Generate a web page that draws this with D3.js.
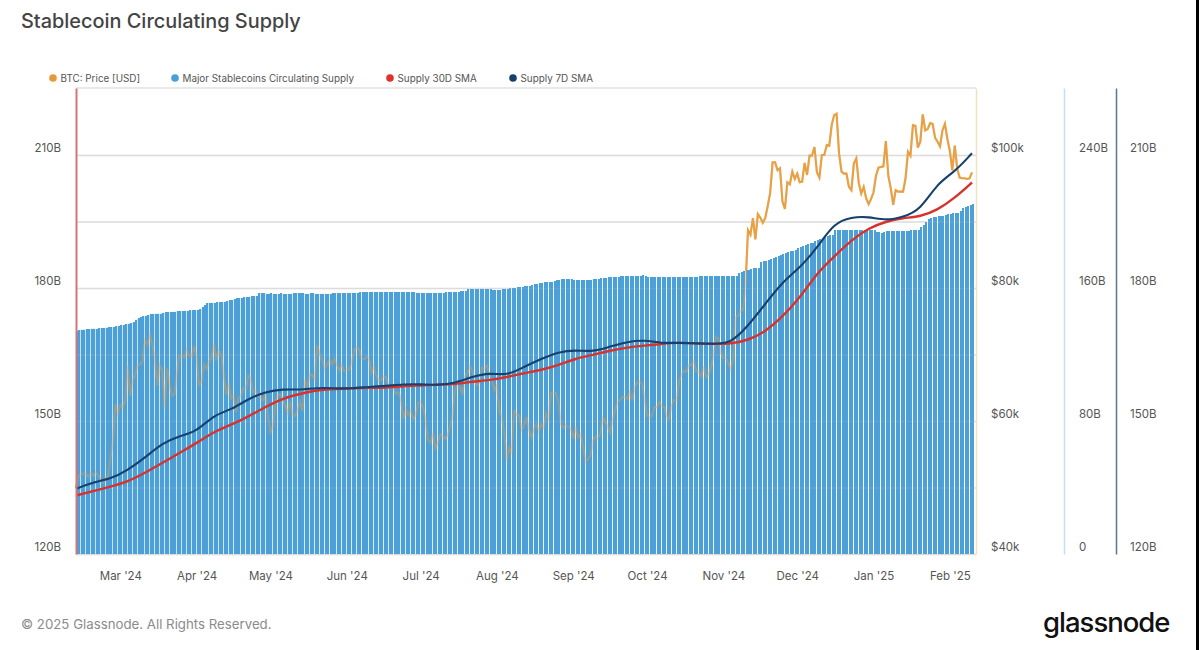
<!DOCTYPE html>
<html>
<head>
<meta charset="utf-8">
<script src="https://cdn.jsdelivr.net/npm/d3@7"></script>
<style>
body { margin: 0; background: #fff; }
text { font-family: Inter, sans-serif; }
.tick text { font-size: 11.5px; fill: #555; }
</style>
</head>
<body>
<div id="chart"></div>
<script>
var firstDay = new Date(2024, 1, 12);
var lastDay = new Date(2025, 1, 10);

// BTC price in thousand USD, one value a day from 12 Feb 2024
var btcPrice = [
49.9,51.8,51.9,52.1,52.1,51.6,52.1,51.8,52.3,51.8,51.3,50.8,51.6,51.7,54.5,57.1,62.5,61.2,
62.4,62.0,63.1,68.3,63.8,66.1,66.9,68.3,68.5,68.9,72.1,71.5,73.1,71.4,69.4,65.3,68.4,67.6,62.0,67.9,65.5,63.8,64.0,67.2,69.9,69.9,69.5,70.7,69.9,69.6,71.3,
69.7,65.4,65.9,68.5,67.8,69.0,69.4,71.6,69.1,70.6,70.0,67.2,63.9,65.7,63.4,63.8,61.3,63.5,63.8,64.9,64.9,66.8,66.4,64.3,64.5,63.8,63.4,63.1,63.8,60.6,
58.3,59.1,62.9,63.9,64.0,63.2,62.3,61.2,63.0,60.8,60.8,61.5,62.9,61.5,66.2,65.2,67.0,66.9,66.3,71.4,70.1,69.1,67.9,68.5,69.2,68.5,69.4,68.4,67.6,68.4,67.5,
67.7,67.7,68.8,70.6,71.1,70.8,69.4,69.3,69.6,69.5,67.3,68.2,66.8,66.0,66.2,66.7,66.5,65.2,65.0,64.9,64.1,64.3,63.2,60.3,61.8,60.9,61.6,60.3,60.9,62.7,
62.9,62.1,60.2,57.1,56.7,58.2,55.9,56.7,58.0,57.7,57.3,57.9,59.2,60.8,64.9,65.1,65.1,63.9,66.7,67.2,68.2,67.5,65.9,65.4,65.8,68.0,67.9,68.3,66.8,66.2,64.6,
65.4,61.4,60.7,58.1,54.0,56.0,55.1,61.7,60.9,60.9,58.7,59.3,60.6,58.7,57.5,58.9,59.5,58.5,59.5,59.0,61.2,60.4,64.2,64.2,64.2,62.9,59.4,59.0,59.4,59.1,58.9,
57.3,59.1,57.5,58.0,56.2,53.9,54.2,54.8,57.0,57.6,57.4,58.1,60.5,60.0,59.2,58.2,60.3,61.6,62.9,63.2,63.6,63.6,63.3,64.3,63.1,65.2,65.8,65.9,65.6,63.3,
60.8,60.6,60.8,62.1,62.1,62.8,62.2,62.1,60.6,60.3,62.4,63.2,63.0,66.0,67.0,67.6,67.4,68.4,68.4,69.0,67.4,67.4,66.7,68.2,66.6,67.0,68.0,69.9,72.7,72.3,70.2,
69.5,69.4,68.7,67.8,69.4,75.6,75.9,76.5,76.7,80.4,88.7,88.0,90.5,87.3,91.1,90.6,89.8,90.5,92.3,94.3,98.9,98.9,97.7,98.0,93.0,91.9,95.9,95.6,97.5,96.4,
97.2,95.9,96.0,98.8,97.0,99.9,99.9,101.2,97.4,96.6,100.0,100.0,101.5,101.4,104.5,106.0,106.2,100.2,97.5,97.2,97.2,95.2,94.7,98.7,99.5,95.8,94.2,95.2,93.5,92.6,93.4,
94.4,96.9,98.1,98.2,98.3,102.1,96.9,95.0,92.5,94.7,94.5,94.5,94.5,96.5,100.5,99.9,104.5,104.4,101.1,102.0,106.1,103.7,103.9,104.8,104.7,102.6,102.0,101.3,103.7,104.7,102.4,
100.6,97.7,101.4,97.9,96.6,96.5,96.5,96.4,96.5,97.4];

// circulating supply in billion USD, one value a day
var supply = [
134.2,134.6,135.0,135.0,135.4,135.4,135.6,135.6,135.4,135.8,136.0,136.0,136.2,136.4,136.4,136.5,136.9,137.3,
137.5,137.9,138.3,138.6,139.0,139.5,141.0,142.0,142.5,143.0,143.4,143.8,144.4,144.5,144.6,144.6,144.6,145.1,145.4,145.6,145.6,145.7,145.8,146.0,146.1,146.1,146.3,146.3,146.5,146.6,146.8,
146.8,147.2,148.5,150.0,151.0,151.2,151.2,151.2,151.3,151.4,151.6,151.8,152.2,152.6,153.0,153.4,153.7,154.0,154.2,154.4,154.6,154.8,155.0,155.1,155.2,157.0,156.9,156.7,156.5,156.5,
156.7,156.4,156.4,156.6,156.7,156.4,156.4,156.4,156.5,156.9,156.9,156.8,156.8,156.9,156.6,156.6,156.8,156.8,156.6,156.6,156.6,156.6,156.6,156.5,156.5,156.7,156.9,156.9,157.0,156.9,156.9,
157.0,157.0,157.0,157.1,157.1,157.4,157.4,157.4,157.3,157.5,157.5,157.5,157.6,157.7,157.7,157.8,157.8,157.7,157.8,157.8,157.8,157.8,157.7,157.5,157.5,157.4,157.3,157.3,157.2,157.2,
157.2,157.2,157.0,157.0,157.0,157.0,157.0,157.1,157.2,157.2,157.3,157.3,157.3,157.4,157.5,157.6,157.9,158.2,158.2,159.2,159.4,159.5,159.6,159.6,159.6,159.6,159.6,159.5,159.3,159.0,158.9,
158.9,159.0,159.2,159.4,159.5,159.7,159.9,160.2,160.4,160.5,160.8,161.0,161.2,161.4,161.8,162.2,162.5,162.9,163.2,163.4,163.6,163.7,163.9,164.2,164.7,165.0,165.2,165.4,165.4,165.4,165.4,
164.6,164.6,164.6,164.7,164.8,164.8,165.0,165.0,165.3,165.4,165.4,165.8,166.0,166.3,166.5,166.7,166.8,166.8,166.9,167.0,167.1,167.2,167.2,167.2,167.3,167.3,167.3,167.4,167.6,167.3,
166.9,166.9,166.9,166.9,166.9,166.9,166.9,166.8,166.8,166.8,166.8,166.8,166.8,166.7,166.7,166.9,166.9,166.9,166.6,166.7,166.7,167.0,167.0,167.1,167.1,167.1,167.1,167.1,167.1,167.1,167.1,
167.1,167.1,167.1,167.1,167.1,167.2,169.0,169.6,170.0,170.6,171.0,171.3,171.8,172.0,172.2,175.6,176.2,176.4,176.8,177.2,178.0,178.4,179.2,179.8,180.6,181.2,181.6,182.0,182.4,182.9,
184.0,184.6,185.0,185.6,186.2,186.8,187.2,188.0,188.6,189.4,190.2,190.6,191.0,191.8,192.0,194.8,194.9,195.0,195.0,195.0,194.9,194.9,194.9,194.9,195.0,195.0,195.0,194.9,194.9,194.9,194.9,
194.9,193.9,193.5,193.3,193.8,194.2,194.4,194.4,194.4,194.3,194.4,194.4,194.3,194.5,194.5,194.7,194.8,194.8,195.0,196.8,197.8,199.8,201.6,202.0,202.6,202.9,203.1,203.3,203.4,204.0,204.6,
204.8,205.0,205.3,205.4,206.4,208.0,208.9,209.6,210.2,210.5];

// moving averages, billion USD, one reading a week from 12 Feb 2024
var sma30 = [133.2,134.2,135.2,136.3,138.3,140.5,142.8,145.0,147.6,149.1,151.0,153.2,155.1,156.1,157.0,157.2,157.4,157.5,157.5,157.9,158.0,158.2,158.3,158.9,159.2,159.9,160.8,161.5,162.6,164.1,164.9,165.9,166.6,167.0,167.4,167.7,167.5,167.4,167.4,168.2,170.1,173.5,177.7,183.4,187.1,190.8,193.5,195.0,195.8,196.1,197.6,200.3,203.8];
var sma7 = [134.7,136.2,136.9,138.9,141.7,145.0,146.6,147.6,151.4,152.5,155.0,156.6,157.2,157.0,157.5,157.4,157.3,157.7,157.9,158.3,158.3,158.1,158.5,160.0,160.9,160.2,162.2,164.0,165.6,166.0,165.6,166.8,167.9,168.3,167.5,167.7,167.5,167.4,167.5,171.4,176.4,181.4,184.5,189.0,194.7,196.0,196.1,195.2,196.0,197.6,203.7,206.2,210.4];

var legendNames = ["BTC: Price [USD]", "Major Stablecoins Circulating Supply", "Supply 30D SMA", "Supply 7D SMA"];
var legendColors = ["#e8973a", "#4a9fd8", "#e0312b", "#17406d"];
var legendX = [53, 175, 390, 513];

var gridTicks = [120, 135, 150, 165, 180, 195, 210];
var leftTicks = [120, 150, 180, 210];
var priceTicks = [40, 60, 80, 100];
var supplyTicks = [0, 80, 160, 240];

var margin = {top: 88, left: 76, right: 976, bottom: 554};

var svg = d3.select("#chart").append("svg")
    .attr("width", 1199)
    .attr("height", 650)
    .style("display", "block");

var x = d3.scaleTime().domain([firstDay, lastDay]).range([76, 972]);
var ySma = d3.scaleLinear().domain([120, 120 + 466 * 30 / 133]).range([margin.bottom, margin.top]);
var yPrice = d3.scaleLinear().domain([40, 40 + 466 * 20 / 133]).range([margin.bottom, margin.top]);
var ySupply = d3.scaleLinear().domain([0, 466 * 80 / 133]).range([margin.bottom, margin.top]);

function dayAt(i) { return d3.timeDay.offset(firstDay, i); }
function weekAt(i) { return d3.timeDay.offset(firstDay, i * 7); }

svg.append("text").attr("x", 21).attr("y", 28)
    .style("font-size", "19.9px").style("font-weight", 500).style("fill", "#444")
    .text("Stablecoin Circulating Supply");

legendNames.forEach(function(name, i) {
    svg.append("circle").attr("cx", legendX[i]).attr("cy", 78).attr("r", 3.8).attr("fill", legendColors[i]);
    svg.append("text").attr("x", legendX[i] + 7.5).attr("y", 82)
        .style("font-size", "9.9px").style("fill", "#555").text(name);
});

// grid and frame
svg.append("line").attr("x1", 76).attr("x2", 976).attr("y1", 88).attr("y2", 88)
    .attr("stroke", "#e2e2e2").attr("stroke-width", 1.5);

function drawGrid(opacity) {
    var grid = svg.append("g").attr("transform", "translate(76,0)")
        .call(d3.axisRight(ySma).tickValues(gridTicks).tickSize(900).tickFormat(""));
    grid.select(".domain").remove();
    grid.selectAll("line").attr("stroke", "#dcdcdc").attr("stroke-width", 1.3).attr("stroke-opacity", opacity);
}
drawGrid(1);

var priceLine = d3.line()
    .x(function(d, i) { return x(dayAt(i)); })
    .y(function(d) { return yPrice(d); });

svg.append("path").datum(btcPrice)
    .attr("d", priceLine)
    .attr("fill", "none").attr("stroke", "#e8a045").attr("stroke-width", 2.1);

// pale backing between the bars, fades out to the right
var gapFade = svg.append("defs").append("linearGradient").attr("id", "gapFade");
gapFade.append("stop").attr("offset", "0%").attr("stop-color", "#bfe3fa");
gapFade.append("stop").attr("offset", "45%").attr("stop-color", "#e2f2fc");
gapFade.append("stop").attr("offset", "100%").attr("stop-color", "#fafdff");

var gapArea = d3.area()
    .x(function(d, i) { return x(dayAt(i)); })
    .y0(margin.bottom)
    .y1(function(d) { return ySupply(d); })
    .curve(d3.curveStepAfter);

svg.append("path").datum(supply)
    .attr("d", gapArea)
    .attr("fill", "url(#gapFade)");

// daily bars, snapped to whole pixels
svg.append("g").attr("shape-rendering", "crispEdges")
    .selectAll("rect").data(supply).enter().append("rect")
    .attr("x", function(d, i) { return x(dayAt(i)); })
    .attr("width", 2)
    .attr("y", function(d) { return ySupply(d); })
    .attr("height", function(d) { return margin.bottom - ySupply(d); })
    .attr("fill", "#4d9fd8");

drawGrid(0.12);

// price shows through the bars as a faded line
svg.append("path").datum(btcPrice)
    .attr("d", priceLine)
    .attr("fill", "none").attr("stroke", "#e8a045").attr("stroke-width", 2.1).attr("opacity", 0.4);

var smaLine = d3.line()
    .x(function(d, i) { return x(weekAt(i)); })
    .y(function(d) { return ySma(d); })
    .curve(d3.curveBasis);

svg.append("path").datum(sma30).attr("d", smaLine)
    .attr("fill", "none").attr("stroke", "#d8322c").attr("stroke-width", 2.4);
svg.append("path").datum(sma7).attr("d", smaLine)
    .attr("fill", "none").attr("stroke", "#17406d").attr("stroke-width", 2.1);

// axes
function styleAxis(g, color, width) {
    g.select(".domain").attr("stroke", color).attr("stroke-width", width);
    g.selectAll(".tick line").remove();
    g.selectAll(".tick text").attr("dy", "-0.27em");
}

var leftAxis = svg.append("g").attr("transform", "translate(76,0)")
    .call(d3.axisLeft(ySma).tickValues(leftTicks).tickSize(0).tickSizeOuter(0).tickPadding(15)
        .tickFormat(function(d) { return d + "B"; }));
styleAxis(leftAxis, "#d5757b", 2);

var priceAxis = svg.append("g").attr("transform", "translate(976,0)")
    .call(d3.axisRight(yPrice).tickValues(priceTicks).tickSize(0).tickSizeOuter(0).tickPadding(15)
        .tickFormat(function(d) { return "$" + d + "k"; }));
styleAxis(priceAxis, "#f3dfc2", 1.5);

var supplyAxis = svg.append("g").attr("transform", "translate(1064,0)")
    .call(d3.axisRight(ySupply).tickValues(supplyTicks).tickSize(0).tickSizeOuter(0).tickPadding(15)
        .tickFormat(function(d) { return d === 0 ? "0" : d + "B"; }));
styleAxis(supplyAxis, "#c4dff0", 1.5);

var smaAxis = svg.append("g").attr("transform", "translate(1116,0)")
    .call(d3.axisRight(ySma).tickValues(leftTicks).tickSize(0).tickSizeOuter(0).tickPadding(14)
        .tickFormat(function(d) { return d + "B"; }));
styleAxis(smaAxis, "#5d7492", 1.5);

var monthAxis = svg.append("g").attr("transform", "translate(0,554)")
    .call(d3.axisBottom(x).ticks(d3.timeMonth.every(1)).tickSize(0).tickSizeOuter(0).tickPadding(18)
        .tickFormat(d3.timeFormat("%b '%y")));
monthAxis.select(".domain").remove();

// footer
svg.append("text").attr("x", 21).attr("y", 629)
    .style("font-size", "13.25px").style("fill", "#8b8b8b")
    .text("© 2025 Glassnode. All Rights Reserved.");
svg.append("text").attr("x", 1043).attr("y", 632)
    .style("font-size", "27.5px").style("font-weight", 500).style("letter-spacing", "-1px").style("fill", "#111")
    .text("glassnode");

// dark edge of the screenshot
svg.append("rect").attr("x", 1196).attr("y", 0).attr("width", 3).attr("height", 650).attr("fill", "#000");
</script>
</body>
</html>
